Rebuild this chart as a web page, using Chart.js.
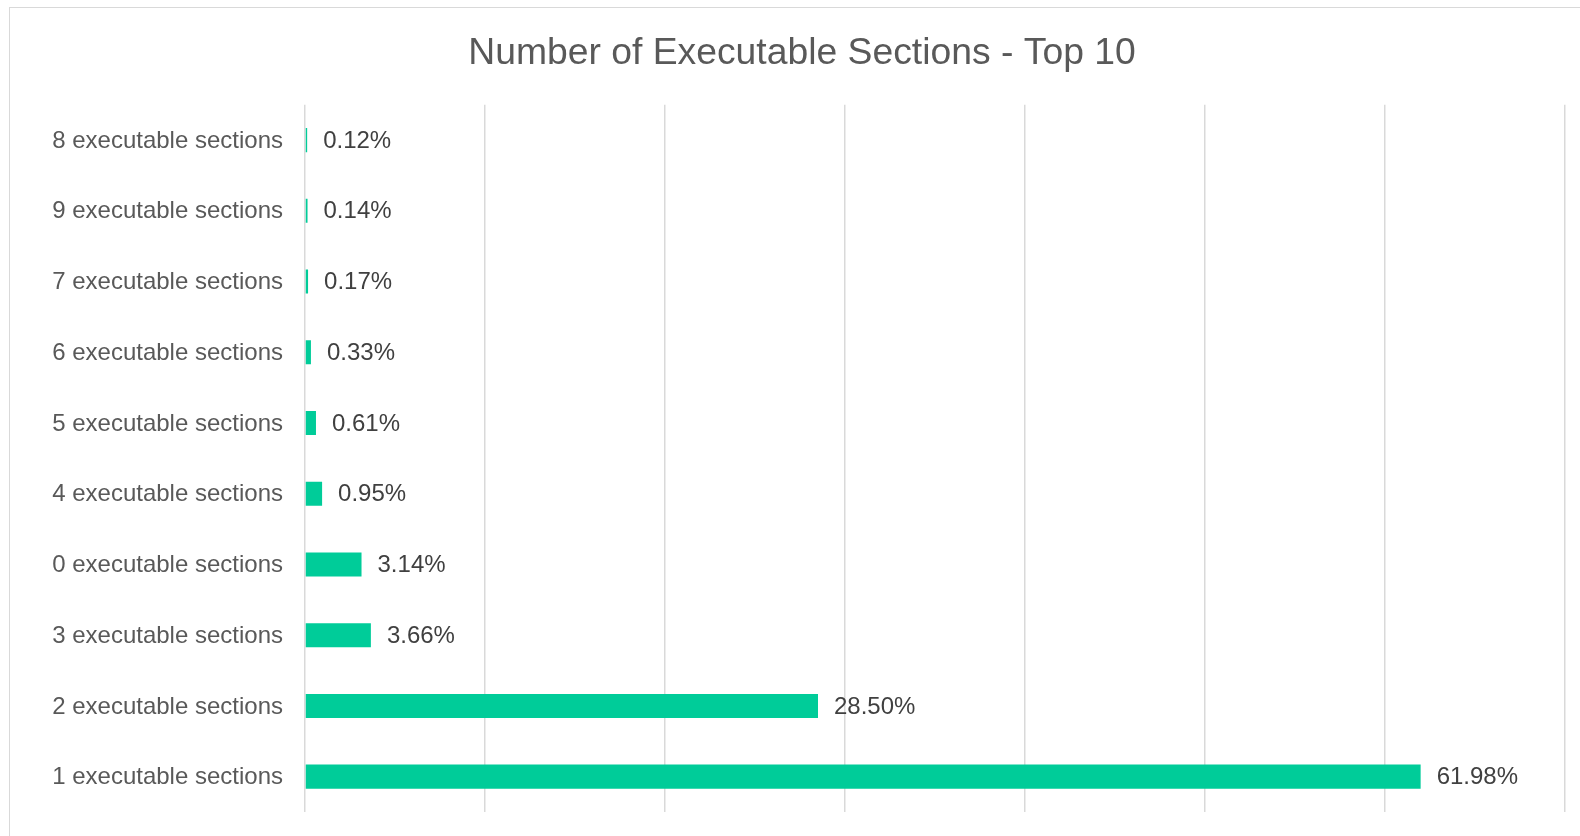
<!DOCTYPE html>
<html>
<head>
<meta charset="utf-8">
<title>Number of Executable Sections - Top 10</title>
<script src="https://cdn.jsdelivr.net/npm/chart.js@4/dist/chart.umd.min.js"></script>
<style>
  html, body { margin: 0; padding: 0; background: #fff; overflow: hidden; }
  .c-wrap { position: relative; width: 1580px; height: 836px; }
  .c-frame { position: absolute; left: 9px; top: 7px; width: 1640px; height: 900px; border: 1px solid #d9d9d9; box-sizing: border-box; }
  #sectionsChart { position: absolute; left: 0; top: 0; }
</style>
</head>
<body>
<div class="c-wrap">
  <div class="c-frame"></div>
  <canvas id="sectionsChart" width="1580" height="836"></canvas>
</div>
<script>
const sectionLabels = [
  '8 executable sections',
  '9 executable sections',
  '7 executable sections',
  '6 executable sections',
  '5 executable sections',
  '4 executable sections',
  '0 executable sections',
  '3 executable sections',
  '2 executable sections',
  '1 executable sections',
];
const sectionShares = [0.12, 0.14, 0.17, 0.33, 0.61, 0.95, 3.14, 3.66, 28.5, 61.98];
const axisTicks = [0, 10, 20, 30, 40, 50, 60, 70];

const fontFamily = '"Liberation Sans", Arial, sans-serif';

// value labels to the right of each bar
const barValues = {
  id: 'barValues',
  afterDatasetsDraw(chart, args, options) {
    const { ctx } = chart;
    const meta = chart.getDatasetMeta(0);
    ctx.save();
    ctx.font = options.fontSize + 'px ' + fontFamily;
    ctx.fillStyle = options.color;
    ctx.textAlign = 'left';
    ctx.textBaseline = 'middle';
    meta.data.forEach(function (bar, i) {
      const value = chart.data.datasets[0].data[i];
      ctx.fillText(value.toFixed(2) + '%', bar.x + options.offset, bar.y + 1);
    });
    ctx.restore();
  },
};

const makeChart = function () {
  const data = {
    labels: sectionLabels,
    datasets: [
      {
        label: 'Share',
        data: sectionShares,
        backgroundColor: '#00cc99',
        borderWidth: 0,
        categoryPercentage: 1,
        barPercentage: 0.34,
      },
    ],
  };

  const config = {
    type: 'bar',
    data,
    options: {
      indexAxis: 'y',
      responsive: false,
      animation: false,
      layout: {
        padding: { left: 39, right: 15, top: 0, bottom: 24 },
      },
      scales: {
        x: {
          min: axisTicks[0],
          max: axisTicks[axisTicks.length - 1],
          afterBuildTicks(scale) {
            scale.ticks = axisTicks.map(function (v) { return { value: v }; });
          },
          ticks: { display: false },
          grid: { color: '#d9d9d9', lineWidth: 1.5, drawTicks: false },
          border: { display: false },
        },
        y: {
          afterFit(scale) {
            // fixed label column, and no extra room above/below for the labels
            scale.width = 266;
            scale.paddingTop = 0;
            scale.paddingBottom = 0;
          },
          ticks: {
            color: '#595959',
            padding: 22,
            labelOffset: 1,
            font: { family: fontFamily, size: 24 },
          },
          grid: { display: false, drawTicks: false },
          border: { display: false },
        },
      },
      plugins: {
        legend: { display: false },
        tooltip: { enabled: false },
        title: {
          display: true,
          text: 'Number of Executable Sections - Top 10',
          color: '#595959',
          font: { family: fontFamily, size: 37.3, weight: 'normal', lineHeight: 1.2 },
          padding: { top: 31, bottom: 29 },
        },
        barValues: { color: '#404040', fontSize: 24, offset: 16 },
      },
    },
    plugins: [barValues],
  };

  new Chart(document.getElementById('sectionsChart'), config);
};

document.addEventListener('DOMContentLoaded', makeChart);
</script>
</body>
</html>
